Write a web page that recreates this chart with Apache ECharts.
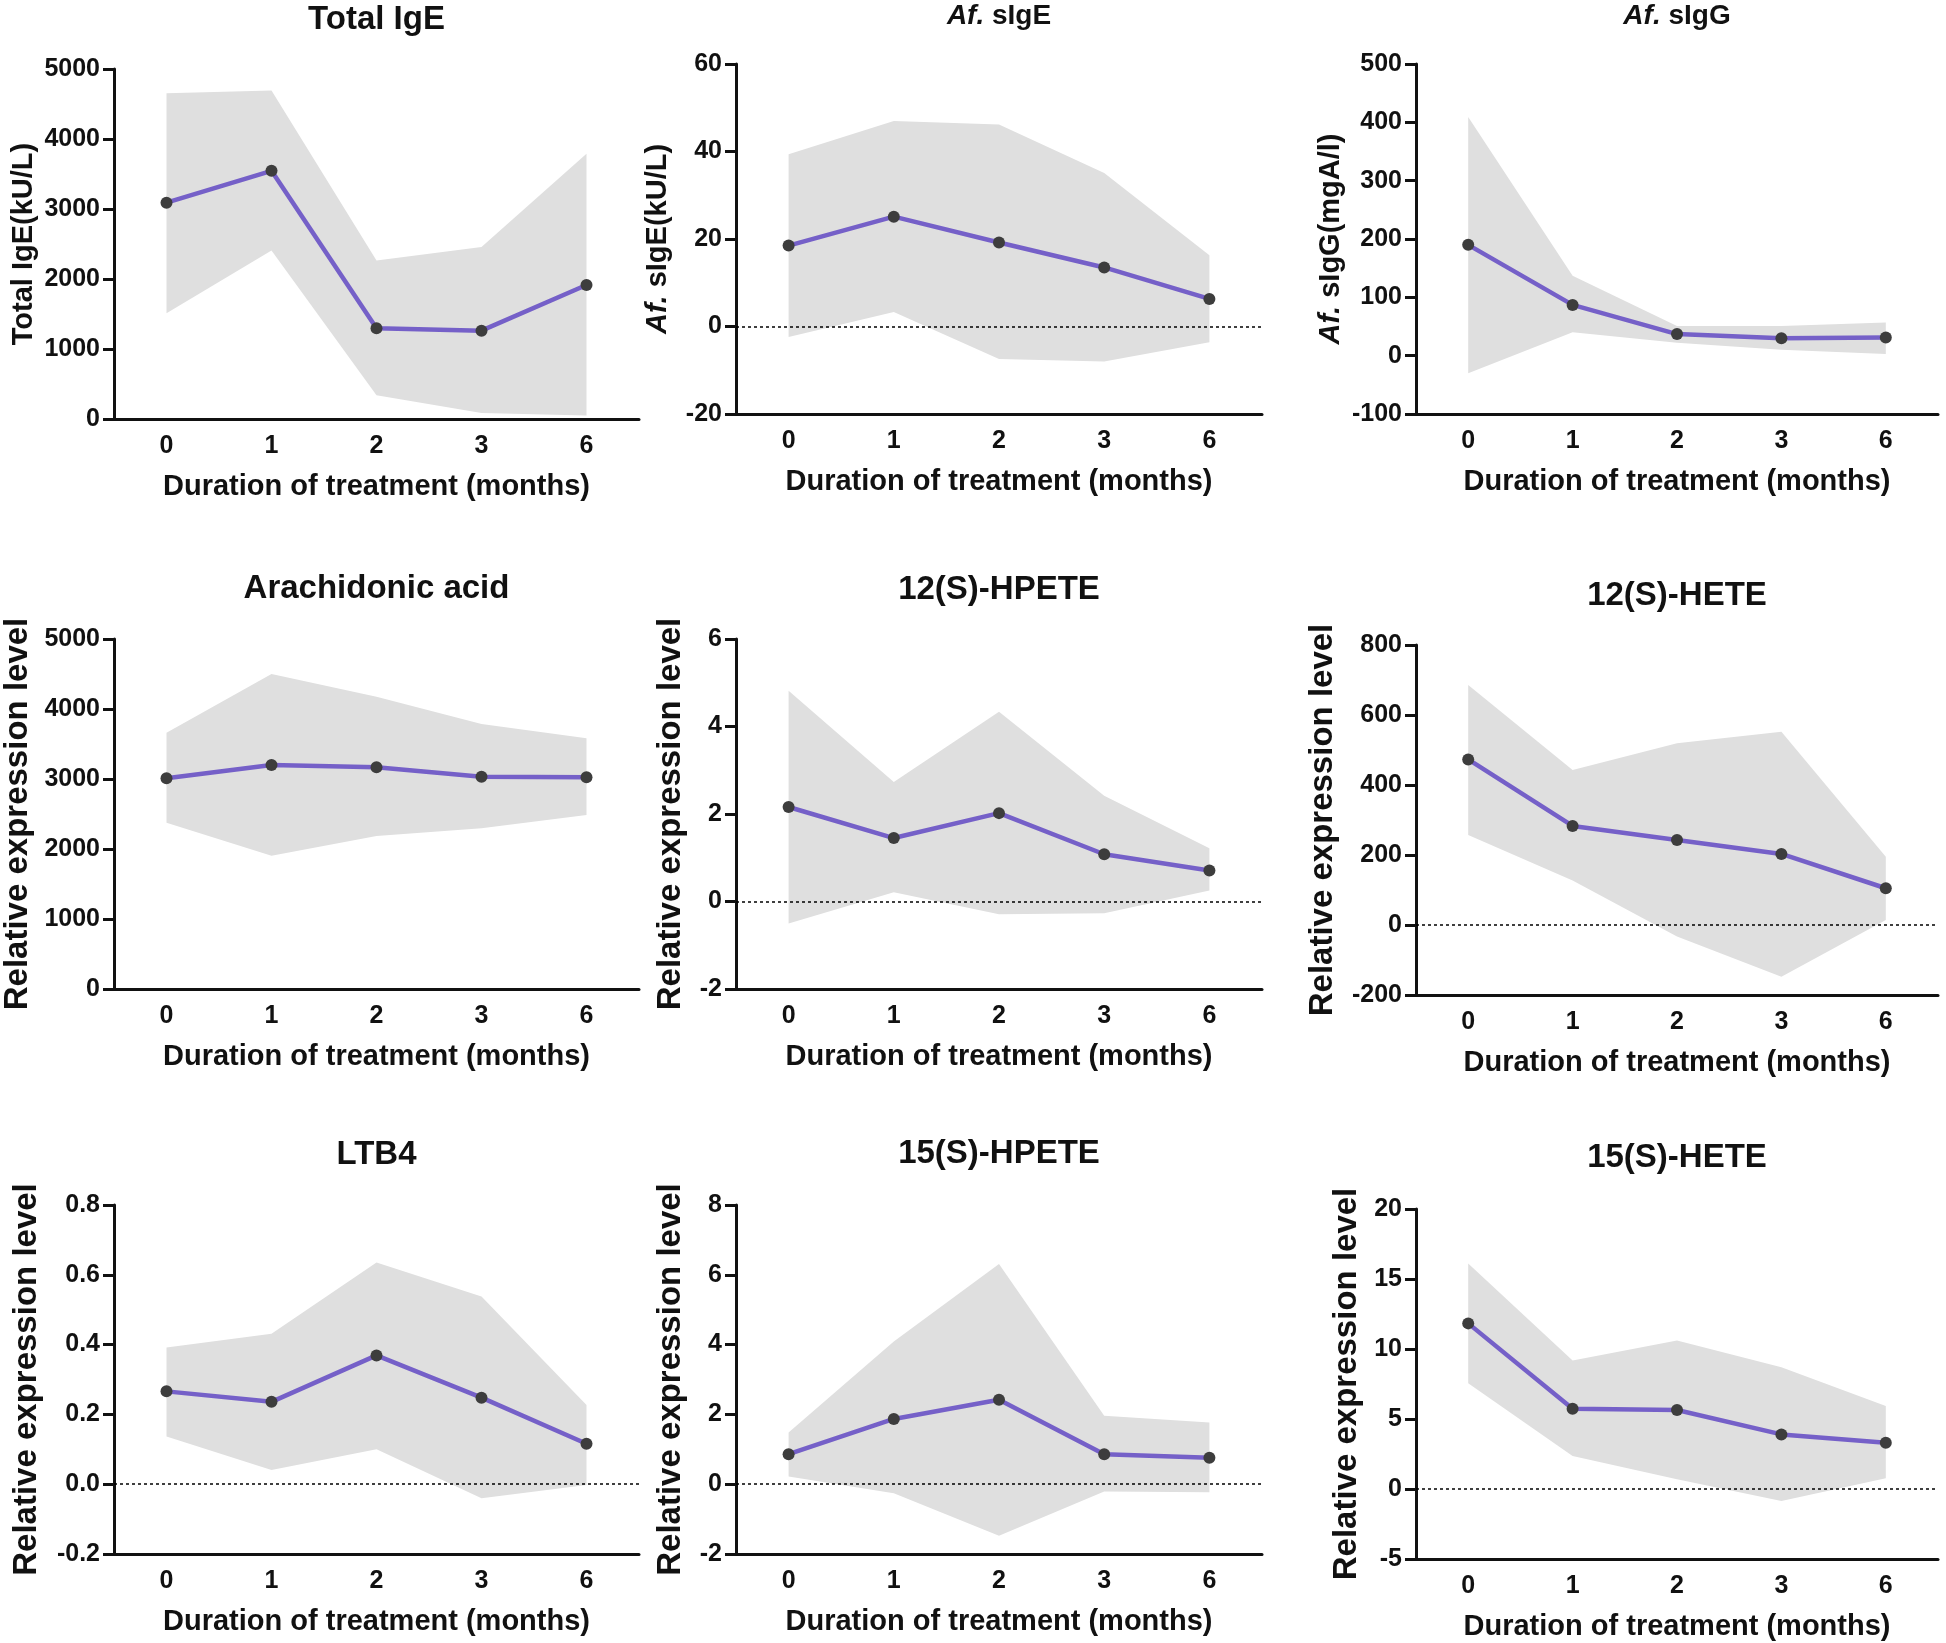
<!DOCTYPE html>
<html>
<head>
<meta charset="utf-8">
<script src="https://cdn.jsdelivr.net/npm/echarts@6/dist/echarts.min.js"></script>
<style>
html,body{margin:0;padding:0;background:#fff;}
#chart{width:1946px;height:1643px;}
</style>
</head>
<body>
<div id="chart"></div>
<script>
// ---------- DATA ----------
const months = ['0', '1', '2', '3', '6'];

const totalIgE_mean  = [3090, 3545, 1298, 1262, 1915];
const totalIgE_upper = [4655, 4692, 2265, 2458, 3790];
const totalIgE_lower = [1512, 2408, 340, 85, 50];

const afsIgE_mean  = [18.5, 25.1, 19.2, 13.5, 6.3];
const afsIgE_upper = [39.4, 47.0, 46.2, 35.1, 16.3];
const afsIgE_lower = [-2.4, 3.3, -7.4, -8.0, -3.6];

const afsIgG_mean  = [190, 87, 37, 30, 31];
const afsIgG_upper = [409, 137, 51, 51, 57];
const afsIgG_lower = [-30, 40, 22, 10, 3];

const aa_mean  = [3010, 3200, 3167, 3033, 3024];
const aa_upper = [3662, 4500, 4176, 3786, 3581];
const aa_lower = [2376, 1905, 2186, 2295, 2486];

const hpete12_mean  = [2.16, 1.45, 2.02, 1.08, 0.71];
const hpete12_upper = [4.82, 2.73, 4.34, 2.42, 1.22];
const hpete12_lower = [-0.50, 0.21, -0.29, -0.27, 0.25];

const hete12_mean  = [473, 283, 243, 203, 105];
const hete12_upper = [686, 443, 519, 552, 195];
const hete12_lower = [257, 127, -33, -148, 14];

const ltb4_mean  = [0.266, 0.236, 0.369, 0.248, 0.116];
const ltb4_upper = [0.392, 0.431, 0.635, 0.538, 0.227];
const ltb4_lower = [0.137, 0.041, 0.100, -0.040, -0.002];

const hpete15_mean  = [0.86, 1.87, 2.42, 0.86, 0.76];
const hpete15_upper = [1.48, 4.09, 6.31, 1.96, 1.77];
const hpete15_lower = [0.22, -0.26, -1.48, -0.21, -0.23];

const hete15_mean  = [11.83, 5.74, 5.64, 3.90, 3.31];
const hete15_upper = [16.1, 9.17, 10.6, 8.69, 5.93];
const hete15_lower = [7.55, 2.36, 0.69, -0.86, 0.76];

// panel texts and y-axis tick settings
const panelTitles = ['Total IgE', '{i|Af.} sIgE', '{i|Af.} sIgG', 'Arachidonic acid', '12(S)-HPETE', '12(S)-HETE', 'LTB4', '15(S)-HPETE', '15(S)-HETE'];
const yTitles = ['Total IgE(kU/L)', '{i|Af.} sIgE(kU/L)', '{i|Af.} sIgG(mgA/l)', 'Relative expression level', 'Relative expression level', 'Relative expression level', 'Relative expression level', 'Relative expression level', 'Relative expression level'];
const xTitle = 'Duration of treatment (months)';
const yMin = [0, -20, -100, 0, -2, -200, -0.2, -2, -5];
const yMax = [5000, 60, 500, 5000, 6, 800, 0.8, 8, 20];
const yStep = [1000, 20, 100, 1000, 2, 200, 0.2, 2, 5];
const yDecimals = [0, 0, 0, 0, 0, 0, 1, 0, 0];
const zeroLine = [false, true, false, false, true, true, true, true, true];

const means = [totalIgE_mean, afsIgE_mean, afsIgG_mean, aa_mean, hpete12_mean, hete12_mean, ltb4_mean, hpete15_mean, hete15_mean];
const uppers = [totalIgE_upper, afsIgE_upper, afsIgG_upper, aa_upper, hpete12_upper, hete12_upper, ltb4_upper, hpete15_upper, hete15_upper];
const lowers = [totalIgE_lower, afsIgE_lower, afsIgG_lower, aa_lower, hpete12_lower, hete12_lower, ltb4_lower, hpete15_lower, hete15_lower];

// ---------- LAYOUT ----------
const cols = [{left: 114, width: 525}, {left: 736, width: 526}, {left: 1416, width: 522}];
const rowsTB = [[69, 419], [64, 414], [64, 414], [639, 989], [639, 989], [645, 995], [1205, 1554], [1205, 1554], [1209, 1559]];
const titleY = [20, 16, 16, 589, 590, 596, 1155, 1154, 1158];
const titleSize = [33, 28, 28, 33, 33, 33, 33, 33, 33];
const yTitleX = [24, 658, 1331, 18, 671, 1323, 27, 671, 1347];
const yTitleSize = [29, 29, 29, 33, 33, 33, 33, 33, 33];

const FONT = '"Liberation Sans", Arial, Helvetica, sans-serif';
const AXC = '#111';
const grids = [], xAxes = [], yAxes = [], series = [], graphics = [];

for (let i = 0; i < 9; i++) {
  const c = cols[i % 3];
  const top = rowsTB[i][0], bottom = rowsTB[i][1];
  grids.push({left: c.left, top: top, width: c.width, height: bottom - top, containLabel: false, outerBoundsMode: 'none'});
  xAxes.push({
    type: 'category', gridIndex: i, data: months, boundaryGap: true,
    axisLine: {onZero: false, lineStyle: {color: AXC, width: 3}},
    axisTick: {alignWithLabel: true, length: 10, lineStyle: {color: AXC, width: 3}},
    axisLabel: {color: '#111', fontFamily: FONT, fontWeight: 'bold', fontSize: 25, margin: 15},
    splitLine: {show: false}
  });
  const dec = yDecimals[i];
  yAxes.push({
    type: 'value', gridIndex: i, min: yMin[i], max: yMax[i], interval: yStep[i],
    axisLine: {show: true, lineStyle: {color: AXC, width: 3}},
    axisTick: {show: true, length: 11, lineStyle: {color: AXC, width: 3}},
    axisLabel: {color: '#111', fontFamily: FONT, fontWeight: 'bold', fontSize: 25, margin: 14,
      formatter: v => { const r = Math.round(v / yStep[i]) * yStep[i]; return (Math.abs(r) < 1e-9 ? 0 : r).toFixed(dec); }},
    splitLine: {show: false}
  });
  const diff = uppers[i].map((u, k) => u - lowers[i][k]);
  const lowerSeries = {
    type: 'line', xAxisIndex: i, yAxisIndex: i, data: lowers[i], stack: 'band' + i, stackStrategy: 'all',
    symbol: 'none', lineStyle: {width: 0, opacity: 0}, silent: true, z: 1
  };
  if (zeroLine[i]) {
    lowerSeries.markLine = {
      silent: true, symbol: 'none', label: {show: false},
      lineStyle: {type: [3, 3], color: '#000', width: 1.5},
      emphasis: {disabled: true},
      data: [{yAxis: 0}]
    };
  }
  series.push(lowerSeries);
  series.push({
    type: 'line', xAxisIndex: i, yAxisIndex: i, data: diff, stack: 'band' + i, stackStrategy: 'all',
    symbol: 'none', lineStyle: {width: 0, opacity: 0}, areaStyle: {color: '#dfdfdf', opacity: 1}, silent: true, z: 2
  });
  series.push({
    type: 'line', xAxisIndex: i, yAxisIndex: i, data: means[i],
    symbol: 'circle', symbolSize: 12,
    lineStyle: {color: '#7560c8', width: 4.5},
    itemStyle: {color: '#3d3d3d', borderWidth: 0},
    z: 3
  });

  const cx = c.left + c.width / 2;
  const rich = (size) => ({i: {fontStyle: 'italic', fontWeight: 'bold', fontSize: size, fontFamily: FONT, fill: '#111'}});
  graphics.push({
    type: 'text', x: cx, y: titleY[i],
    style: {text: panelTitles[i], fontFamily: FONT, fontWeight: 'bold', fontSize: titleSize[i], fill: '#111',
      align: 'center', verticalAlign: 'middle', rich: rich(titleSize[i])}
  });
  graphics.push({
    type: 'text', x: cx, y: bottom + 68,
    style: {text: xTitle, fontFamily: FONT, fontWeight: 'bold', fontSize: 29, fill: '#111',
      align: 'center', verticalAlign: 'middle'}
  });
  graphics.push({
    type: 'text', x: yTitleX[i], y: (top + bottom) / 2, rotation: Math.PI / 2,
    style: {text: yTitles[i], fontFamily: FONT, fontWeight: 'bold', fontSize: yTitleSize[i], fill: '#111',
      align: 'center', verticalAlign: 'middle', rich: rich(yTitleSize[i])}
  });
}

const chart = echarts.init(document.getElementById('chart'), null, {renderer: 'canvas'});
chart.setOption({
  animation: false,
  backgroundColor: '#fff',
  grid: grids, xAxis: xAxes, yAxis: yAxes, series: series,
  graphic: graphics
});
</script>
</body>
</html>
